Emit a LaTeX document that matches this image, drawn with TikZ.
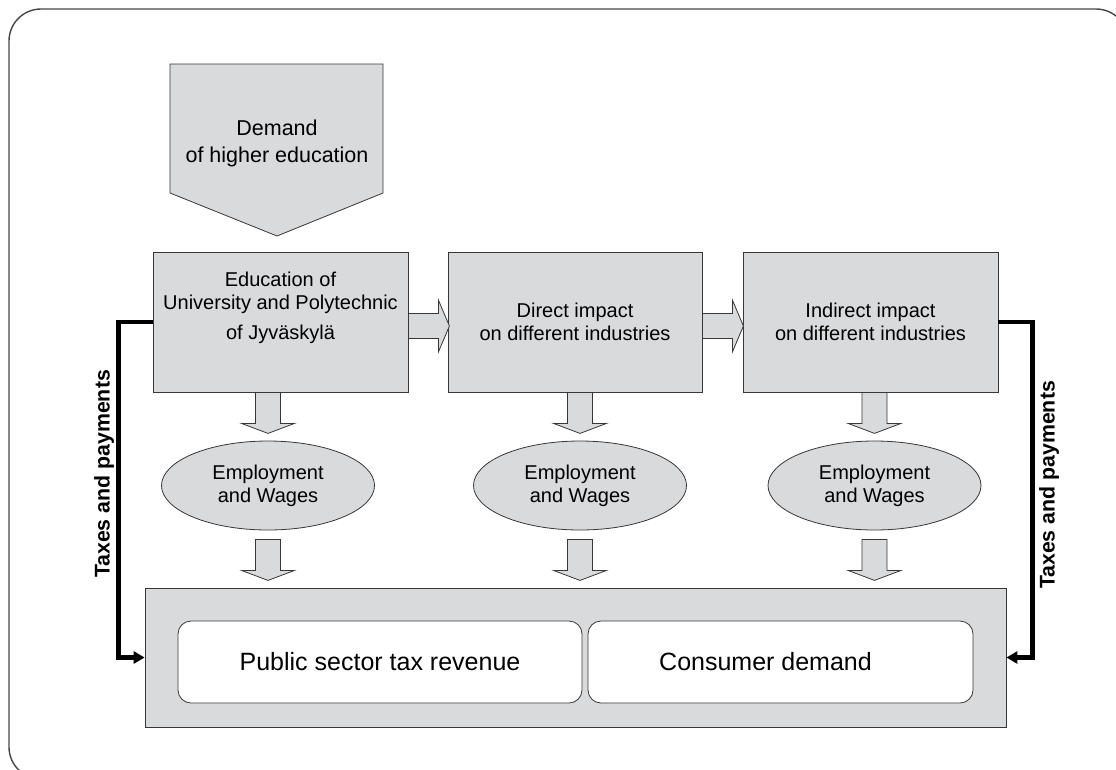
\documentclass[tikz,border=0pt]{standalone}
\usepackage{fontspec}
\setmainfont{Liberation Sans}
\usetikzlibrary{shapes.geometric,arrows.meta,calc}
\definecolor{boxgray}{RGB}{217,218,220}
\definecolor{edgegray}{RGB}{55,55,55}
\definecolor{framegray}{RGB}{70,70,70}
\begin{document}
\begin{tikzpicture}[x=1pt,y=-1pt,
  blk/.style={draw=edgegray,line width=0.8pt,fill=boxgray},
  txt/.style={font=\fontsize{20}{23}\selectfont,align=center},
  demtxt/.style={font=\fontsize{21.5}{27}\selectfont,align=center},
  bigtxt/.style={font=\fontsize{25}{29}\selectfont,align=center},
  mainbox/.style={blk,rectangle,minimum width=255pt,minimum height=140pt,inner sep=0pt,txt},
  empell/.style={blk,ellipse,minimum width=213pt,minimum height=89pt,inner sep=0pt,txt},
  whitebox/.style={draw=edgegray,line width=0.8pt,fill=white,rounded corners=13pt,minimum height=82pt,inner sep=0pt,bigtxt},
  taxline/.style={line width=4.5pt,black,-{Triangle[length=11pt,width=12pt]}},
  taxlabel/.style={rotate=90,font=\fontsize{21.3}{24}\selectfont\bfseries},
  dblk/.pic={\path[blk] (-12.5,0) -- (-12.5,31) -- (-26.5,31) -- (0,41) -- (26.5,31) -- (12.5,31) -- (12.5,0) -- cycle;},
  rblk/.pic={\path[blk] (0,-12.5) -- (30,-12.5) -- (30,-26) -- (41,0) -- (30,26) -- (30,12.5) -- (0,12.5) -- cycle;}
]
\useasboundingbox (0,0) rectangle (1116,769);
\begin{scope}
\clip (0,0) rectangle (1116,769);
\draw[framegray,line width=1.4pt,rounded corners=32pt] (9,9) rectangle (1128,779);
\end{scope}

% demand pentagon arrow
\path[blk] (170,64) -- (383,64) -- (383,193) -- (277,236) -- (170,193) -- cycle;
\node[demtxt] (dem) at (277,143) {Demand\\of higher education};

% main boxes
\node[mainbox,label={[txt,yshift=14pt]center:Education of\\University and Polytechnic\\[7pt]of Jyväskylä}] (b1) at (280.5,322) {};
\node[mainbox,minimum width=254pt] (b2) at (575,322) {Direct impact\\on different industries};
\node[mainbox] (b3) at (870.5,322) {Indirect impact\\on different industries};

% right block arrows
\pic at ($(b1.east)+(0,4)$) {rblk};
\pic at ($(b2.east)+(0,4)$) {rblk};

% ellipses
\node[empell] (e1) at (268,485.5) {Employment\\and Wages};
\node[empell] (e2) at (580,485.5) {Employment\\and Wages};
\node[empell] (e3) at (874.5,485.5) {Employment\\and Wages};

% down block arrows box -> ellipse
\pic at ($(b1.south)+(-12.5,0)$) {dblk};
\pic at ($(b2.south)+(5,0)$) {dblk};
\pic at ($(b3.south)+(4,0)$) {dblk};

% down block arrows ellipse -> bottom
\pic at ($(e1.south)+(0,9)$) {dblk};
\pic at ($(e2.south)+(0,9)$) {dblk};
\pic at ($(e3.south)+(0,9)$) {dblk};

% bottom box
\node[blk,rectangle,minimum width=861pt,minimum height=139pt,inner sep=0pt] (bot) at (575.5,657.5) {};
\node[whitebox,minimum width=404pt] (pub) at (380,662) {Public sector tax revenue};
\node[whitebox,minimum width=385pt] (con) at (780.5,662) {Consumer demand\hspace*{30pt}};

% taxes and payments
\draw[taxline] (b1.west) -- ++(-34,0) |- (bot.west);
\draw[taxline] (b3.east) -- ++(34,0) |- (bot.east);
\node[taxlabel] (taxl) at (104,474) {Taxes and payments};
\node[taxlabel] (taxr) at (1049,485) {Taxes and payments};
\end{tikzpicture}
\end{document}
